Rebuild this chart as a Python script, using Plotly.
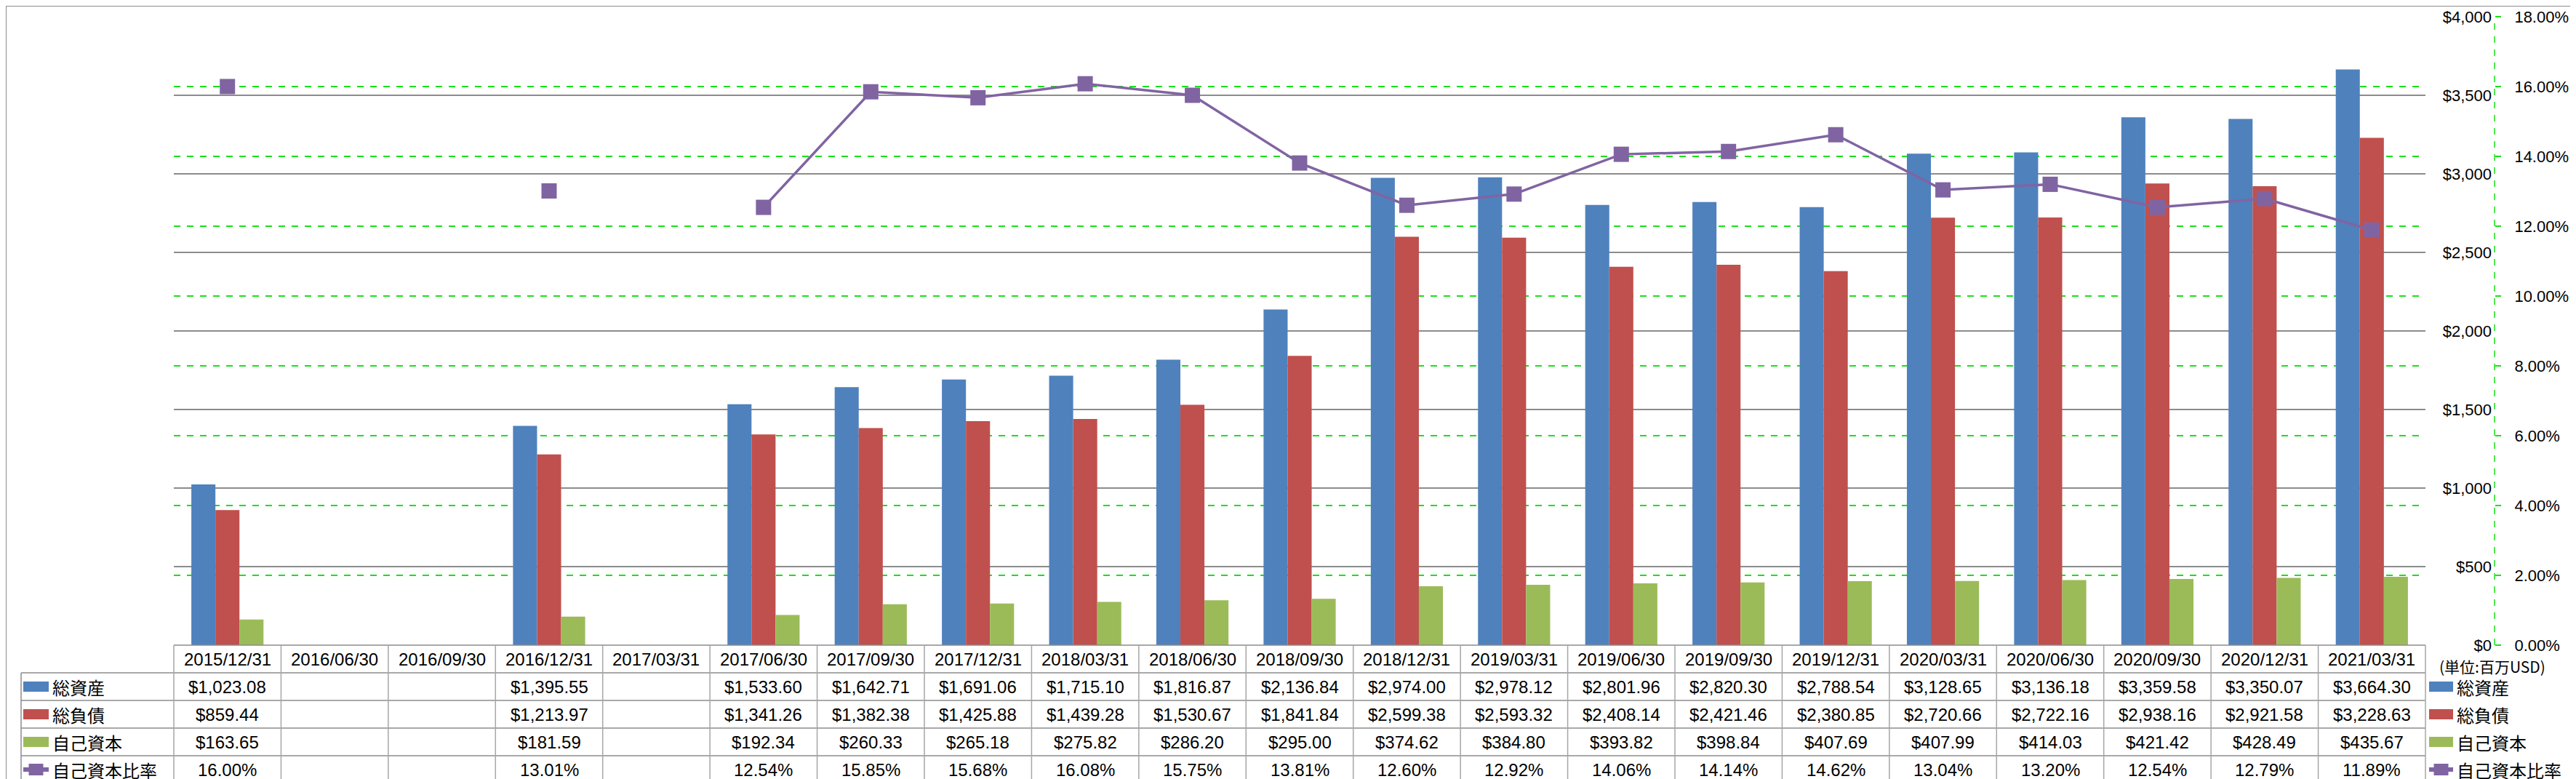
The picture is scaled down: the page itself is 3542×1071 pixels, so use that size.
import plotly.graph_objects as go

W, H = 3542, 1071

categories = ['2015/12/31', '2016/06/30', '2016/09/30', '2016/12/31', '2017/03/31',
              '2017/06/30', '2017/09/30', '2017/12/31', '2018/03/31', '2018/06/30',
              '2018/09/30', '2018/12/31', '2019/03/31', '2019/06/30', '2019/09/30',
              '2019/12/31', '2020/03/31', '2020/06/30', '2020/09/30', '2020/12/31',
              '2021/03/31']
total_assets = [1023.08, None, None, 1395.55, None, 1533.60, 1642.71, 1691.06, 1715.10,
                1816.87, 2136.84, 2974.00, 2978.12, 2801.96, 2820.30, 2788.54, 3128.65,
                3136.18, 3359.58, 3350.07, 3664.30]
total_liabilities = [859.44, None, None, 1213.97, None, 1341.26, 1382.38, 1425.88, 1439.28,
                     1530.67, 1841.84, 2599.38, 2593.32, 2408.14, 2421.46, 2380.85, 2720.66,
                     2722.16, 2938.16, 2921.58, 3228.63]
equity = [163.65, None, None, 181.59, None, 192.34, 260.33, 265.18, 275.82, 286.20, 295.00,
          374.62, 384.80, 393.82, 398.84, 407.69, 407.99, 414.03, 421.42, 428.49, 435.67]
equity_ratio = [16.00, None, None, 13.01, None, 12.54, 15.85, 15.68, 16.08, 15.75, 13.81,
                12.60, 12.92, 14.06, 14.14, 14.62, 13.04, 13.20, 12.54, 12.79, 11.89]

names = ['総資産', '総負債', '自己資本', '自己資本比率']
colors = ['#4F81BD', '#C0504D', '#9BBB59', '#8064A2']
unit_label = '(単位:百万USD)'

NUM_FONT = 'Liberation Sans, Noto Sans CJK JP, sans-serif'
JP_FONT = 'Noto Sans CJK JP, sans-serif'
GRID_GRAY = '#8C8C8C'
GREEN = '#19E019'


def X(px):
    return px / W


def Y(py):
    return (H - py) / H


PL, PR, PT, PB = 231, 3327, 15, 879
ROW = 38
AXIS_X = 3422

fig = go.Figure()
for name, vals, col in zip(names[:3], [total_assets, total_liabilities, equity], colors[:3]):
    fig.add_trace(go.Bar(x=categories, y=vals, name=name, marker=dict(color=col, line=dict(width=0)),
                         yaxis='y'))
fig.add_trace(go.Scatter(x=categories, y=equity_ratio, name=names[3], yaxis='y2', mode='lines+markers',
                         connectgaps=False, cliponaxis=False,
                         line=dict(color=colors[3], width=3.5),
                         marker=dict(symbol='square', size=21, color=colors[3])))

shapes = []
annotations = []

# outer border
shapes.append(dict(type='rect', xref='paper', yref='paper', x0=0, x1=1, y0=0, y1=1,
                   line=dict(color=GRID_GRAY, width=2)))
# secondary axis dashed line
shapes.append(dict(type='line', xref='paper', yref='paper', x0=X(AXIS_X), x1=X(AXIS_X),
                   y0=Y(PB), y1=Y(PT), line=dict(color=GREEN, width=1.5, dash='dash')))

# data table lines
n = len(categories)
cw = (PR - PL) / n
tbl_bottom = PB + 5 * ROW
line_style = dict(color=GRID_GRAY, width=1.5)
shapes.append(dict(type='line', xref='paper', yref='paper', x0=X(PL), x1=X(PR), y0=Y(PB), y1=Y(PB), line=line_style))
for r in range(1, 6):
    yy = PB + r * ROW
    shapes.append(dict(type='line', xref='paper', yref='paper', x0=X(21), x1=X(PR), y0=Y(yy), y1=Y(yy),
                       line=line_style))
shapes.append(dict(type='line', xref='paper', yref='paper', x0=X(21), x1=X(21), y0=Y(PB + ROW), y1=Y(tbl_bottom),
                   line=line_style))
for k in range(n + 1):
    xx = PL + k * cw
    shapes.append(dict(type='line', xref='paper', yref='paper', x0=X(xx), x1=X(xx), y0=Y(PB), y1=Y(tbl_bottom),
                       line=dict(color='#A6A6A6', width=1.5)))

# table header (categories) and values
for c in categories:
    annotations.append(dict(x=c, xref='x', y=Y(PB + ROW / 2), yref='paper', text=c, showarrow=False,
                            xanchor='center', yanchor='middle', font=dict(family=NUM_FONT, size=24, color='black')))
rows = [total_assets, total_liabilities, equity, equity_ratio]
for r, vals in enumerate(rows):
    yc = PB + ROW * (r + 1) + ROW / 2
    for c, v in zip(categories, vals):
        if v is None:
            continue
        txt = f'{v:.2f}%' if r == 3 else f'${v:,.2f}'
        annotations.append(dict(x=c, xref='x', y=Y(yc), yref='paper', text=txt, showarrow=False,
                                xanchor='center', yanchor='middle',
                                font=dict(family=NUM_FONT, size=24, color='black')))


def legend_key(x0, x1, yc, i):
    if i < 3:
        shapes.append(dict(type='rect', xref='paper', yref='paper', x0=X(x0), x1=X(x1), y0=Y(yc + 7), y1=Y(yc - 7),
                           fillcolor=colors[i], line=dict(width=0)))
    else:
        shapes.append(dict(type='line', xref='paper', yref='paper', x0=X(x0), x1=X(x1), y0=Y(yc), y1=Y(yc),
                           line=dict(color=colors[i], width=6)))
        mid = (x0 + x1) / 2
        shapes.append(dict(type='rect', xref='paper', yref='paper', x0=X(mid - 10), x1=X(mid + 10),
                           y0=Y(yc + 8), y1=Y(yc - 8), fillcolor=colors[i], line=dict(width=0)))


for i, name in enumerate(names):
    yc = PB + ROW * (i + 1) + ROW / 2
    legend_key(24, 59, yc, i)
    annotations.append(dict(x=X(62), xref='paper', y=Y(yc), yref='paper', text=name, showarrow=False,
                            xanchor='left', yanchor='middle', font=dict(family=JP_FONT, size=24, color='black')))
    legend_key(3332, 3365, yc, i)
    annotations.append(dict(x=X(3368), xref='paper', y=Y(yc), yref='paper', text=name, showarrow=False,
                            xanchor='left', yanchor='middle', font=dict(family=JP_FONT, size=24, color='black')))

annotations.append(dict(x=X(3344), xref='paper', y=Y(908), yref='paper', text=unit_label, showarrow=False,
                        xanchor='left', yanchor='middle', font=dict(family=JP_FONT, size=21, color='black')))

fig.update_layout(
    width=W, height=H, autosize=False,
    margin=dict(l=0, r=0, t=0, b=0, pad=0),
    paper_bgcolor='white', plot_bgcolor='white',
    showlegend=False,
    barmode='group', bargap=0.327, bargroupgap=0,
    xaxis=dict(type='category', domain=[X(PL), X(PR)], range=[-0.5, n - 0.5], autorange=False,
               showticklabels=False, ticks='', automargin=False,
               showgrid=False, zeroline=False, showline=False, anchor='y'),
    yaxis=dict(domain=[Y(PB), Y(PT)], range=[0, 4000], autorange=False, dtick=500, tickprefix='$',
               tickformat=',', side='left', anchor='free', position=X(AXIS_X), automargin=False,
               ticklabelstandoff=4, ticks='',
               showgrid=True, gridcolor=GRID_GRAY, gridwidth=1.5, zeroline=False, showline=False,
               tickfont=dict(family=NUM_FONT, size=22, color='black')),
    yaxis2=dict(overlaying='y', range=[0, 18], autorange=False, dtick=2, tickformat='.2f', ticksuffix='%',
                side='right', anchor='free', position=X(AXIS_X), ticks='outside', ticklen=8,
                tickcolor=GREEN, tickwidth=1.5, ticklabelstandoff=14, automargin=False,
                showgrid=True, gridcolor=GREEN, gridwidth=1.5, griddash='dash',
                zeroline=False, showline=False,
                tickfont=dict(family=NUM_FONT, size=22, color='black')),
    shapes=shapes,
    annotations=annotations,
)

fig.write_html('out.html')
